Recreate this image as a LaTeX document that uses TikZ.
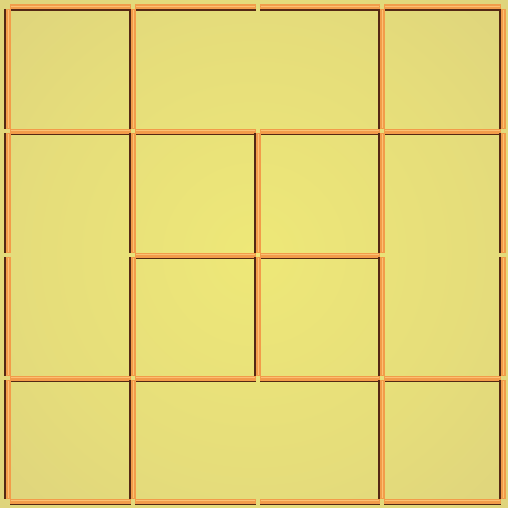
\documentclass[tikz,border=0pt]{standalone}
\definecolor{bgin}{RGB}{238,232,120}
\definecolor{bgout}{RGB}{204,188,130}
\definecolor{matchorange}{RGB}{242,156,74}
\definecolor{matchlight}{RGB}{252,192,114}
\definecolor{matchdark}{RGB}{84,40,20}
\pgfdeclareradialshading{tablebg}{\pgfpoint{0bp}{0bp}}{color(0bp)=(bgin); color(22bp)=(bgin!75!bgout); color(71bp)=(bgout)}
\begin{document}
\begin{tikzpicture}[x=1pt, y=-1pt,
  stick/.style={line width=5pt, draw=matchorange},
  sticklight/.style={line width=1.2pt, draw=matchlight},
  stickshadow/.style={line width=1.8pt, draw=matchdark}]
  \useasboundingbox (0,0) rectangle (508,508);
  \shade[shading=tablebg] (0,0) rectangle (508,508);
  % horizontal matches
  \foreach \y in {7,131,378,501}
    \foreach \a/\b in {8/133,133/258,258/382,382/503} {
      \draw[stickshadow] (\a+2,\y+3) -- (\b-2,\y+3);
      \draw[stick] (\a+2,\y) -- (\b-2,\y);
      \draw[sticklight] (\a+3,\y-0.8) -- (\b-3,\y-0.8);
    }
  \foreach \a/\b in {133/258,258/382} {
    \draw[stickshadow] (\a+2,258) -- (\b-2,258);
    \draw[stick] (\a+2,255) -- (\b-2,255);
    \draw[sticklight] (\a+3,254.2) -- (\b-3,254.2);
  }
  % vertical matches
  \foreach \x in {8,133,382,503}
    \foreach \a/\b in {7/131,131/255,255/378,378/501} {
      \draw[stickshadow] (\x-3,\a+2) -- (\x-3,\b-2);
      \draw[stick] (\x,\a+2) -- (\x,\b-2);
      \draw[sticklight] (\x+0.8,\a+3) -- (\x+0.8,\b-3);
    }
  \foreach \a/\b in {131/255,255/378} {
    \draw[stickshadow] (255,\a+2) -- (255,\b-2);
    \draw[stick] (258,\a+2) -- (258,\b-2);
    \draw[sticklight] (258.8,\a+3) -- (258.8,\b-3);
  }
\end{tikzpicture}
\end{document}
